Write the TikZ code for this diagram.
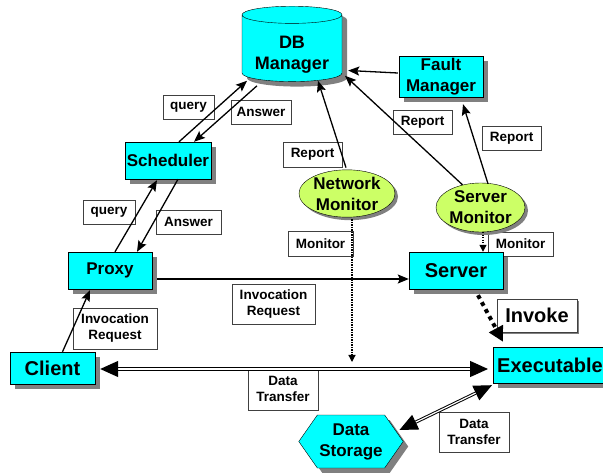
\documentclass[tikz,border=0pt]{standalone}
\usepackage{fontspec}
\setmainfont{Liberation Sans}
\usetikzlibrary{arrows.meta,positioning,calc,shapes.geometric,shapes.symbols,shadows}

\definecolor{boxcyan}{RGB}{0,255,255}
\definecolor{monlime}{RGB}{204,255,102}
\definecolor{shadowgray}{RGB}{128,128,128}

\begin{document}
\begin{tikzpicture}[
    x=1pt, y=-1pt,
    font=\bfseries\fontsize{13.5}{16}\selectfont,
    shd/.style={drop shadow={shadow xshift=5pt, shadow yshift=-5pt, fill=shadowgray, opacity=1}},
    comp/.style={draw=black, fill=boxcyan, shd, align=center, inner sep=2pt,
                 font=\bfseries\fontsize{17}{21}\selectfont},
    mon/.style={ellipse, draw=black, fill=monlime, align=center, inner sep=0pt,
                drop shadow={shadow xshift=3pt, shadow yshift=-3pt, fill=shadowgray, opacity=1},
                font=\bfseries\fontsize{17}{21}\selectfont},
    lbl/.style={draw=black!75, fill=white, align=center, inner sep=1pt},
    fl/.style={-{Stealth[length=11pt,width=9pt,inset=2pt]}, line width=1.3pt},
    dotfl/.style={-{Triangle[length=7pt,width=7pt]}, line width=1.2pt, dash pattern=on 1.2pt off 1.3pt},
    dbl/.style={{Triangle[length=18pt,width=16pt]}-{Triangle[length=18pt,width=16pt]},
                double=white, line width=1.2pt, double distance=1.3pt}
  ]
  \useasboundingbox (0,0) rectangle (603,473);

  % labels on the connectors
  \node[lbl, minimum width=51pt, minimum height=24pt] (q1) at (188.5,107) {query};
  \node[lbl, minimum width=60pt, minimum height=24pt] (a1) at (261,112) {Answer};
  \node[lbl, minimum width=52pt, minimum height=24pt] (q2) at (109,212) {query};
  \node[lbl, minimum width=65pt, minimum height=24pt] (a2) at (188.5,222) {Answer};
  \node[lbl, minimum width=59pt, minimum height=25pt] (rep1) at (312.5,154.5) {Report};
  \node[lbl, minimum width=59pt, minimum height=24pt] (rep2) at (422.5,122.5) {Report};
  \node[lbl, minimum width=59pt, minimum height=24pt] (rep3) at (511.5,138) {Report};
  \node[lbl, minimum width=65pt, minimum height=25pt] (mon1) at (320.5,243.5) {Monitor};
  \node[lbl, minimum width=65pt, minimum height=24pt] (mon2) at (520.5,244) {Monitor};
  \node[lbl, minimum width=84pt, minimum height=41pt] (inv1) at (115,328.5) {Invocation\\Request};
  \node[lbl, minimum width=83pt, minimum height=40pt] (inv2) at (273.5,304) {Invocation\\Request};
  \node[lbl, minimum width=70pt, minimum height=42pt] (dt1) at (283,389) {Data\\Transfer};
  \node[lbl, minimum width=70pt, minimum height=40pt] (dt2) at (474,432) {Data\\Transfer};
  \node[lbl, minimum width=80pt, minimum height=33pt, font=\bfseries\fontsize{20}{20}\selectfont,
        drop shadow={shadow xshift=2pt, shadow yshift=-2pt, fill=shadowgray, opacity=1}] (invk) at (537,315.5) {Invoke};

  % components
  \node[comp, cylinder, shape border rotate=90, aspect=0.22, text height=44pt,
        font=\bfseries\fontsize{18}{21}\selectfont,
        minimum width=100pt, minimum height=58pt] (db) at (292,49.5) {DB\\Manager};
  \node[comp, minimum width=84pt, minimum height=37pt] (fault) at (441,76.5) {Fault\\Manager};
  \node[comp, minimum width=84pt, minimum height=37pt] (sched) at (168,160.5) {Scheduler};
  \node[comp, minimum width=84pt, minimum height=37pt] (proxy) at (110,270.5) {Proxy};
  \node[comp, minimum width=85pt, minimum height=32pt, font=\bfseries\fontsize{20}{20}\selectfont] (client) at (52.5,368) {Client};
  \node[comp, minimum width=94pt, minimum height=37pt, font=\bfseries\fontsize{20}{20}\selectfont] (server) at (456,270.5) {Server};
  \node[comp, anchor=west, minimum height=36pt, inner xsep=4pt,
        font=\bfseries\fontsize{20}{20}\selectfont] (exec) at (493,365) {Executable};
  \node[comp, signal, signal to=east and west, signal pointer angle=110,
        minimum width=104pt, minimum height=53pt] (store) at (351,441.5) {Data\\Storage};
  \node[mon, minimum width=96pt, minimum height=47pt] (netmon) at (347,193.5) {Network\\Monitor};
  \node[mon, minimum width=89pt, minimum height=49pt] (srvmon) at (480.5,207.5) {Server\\Monitor};

  \coordinate (nmEnd) at (352,362);

  % query / answer
  \draw[fl] ($(sched.north)+(11,0)$) -- ($(db.south)+(-45,-1)$);
  \draw[fl] ($(db.south)+(-35,4)$) -- ($(sched.north)+(26,0)$);
  \draw[fl] ($(proxy.north)+(5,0)$) -- ($(sched.south)+(-11,1)$);
  \draw[fl] ($(sched.south)+(10,0)$) -- ($(proxy.north)+(27,0)$);
  \draw[fl] ($(client.north)+(10,0)$) -- ($(proxy.south)+(-20,1)$);
  \draw[fl] ($(proxy.east)+(5,8.5)$) -- ($(server.west)+(0,8.5)$);

  % reports
  \draw[fl] ($(netmon.north)+(-1,-2)$) -- ($(db.south)+(26,-1)$);
  \draw[fl] ($(srvmon.north)+(-18,2)$) -- ($(db.south)+(53,-6)$);
  \draw[fl] ($(srvmon.north)+(7.5,1)$) -- ($(fault.south)+(22,7)$);
  \draw[fl] ($(fault.west)+(-1,-3.5)$) -- ($(db.east)+(6,21)$);

  % monitoring
  \draw[dotfl] ($(netmon.south)+(5,2)$) -- (nmEnd);
  \draw[dotfl] ($(srvmon.south)+(2.5,0)$) -- ($(server.north)+(27,0)$);

  % invocation and data flow
  \draw[-{Triangle[length=15pt,width=15pt]}, line width=4pt, dash pattern=on 4pt off 4pt]
    ($(server.south)+(22,6)$) -- ($(exec.north west)+(10,-5)$);
  \draw[dbl] ($(client.east)+(5,1)$) -- ($(exec.west)+(-5,4)$);
  \draw[dbl, line width=1pt, double distance=1.2pt] ($(store.east)+(-4,-11.5)$) -- ($(exec.south west)+(-1,2)$);
\end{tikzpicture}
\end{document}
